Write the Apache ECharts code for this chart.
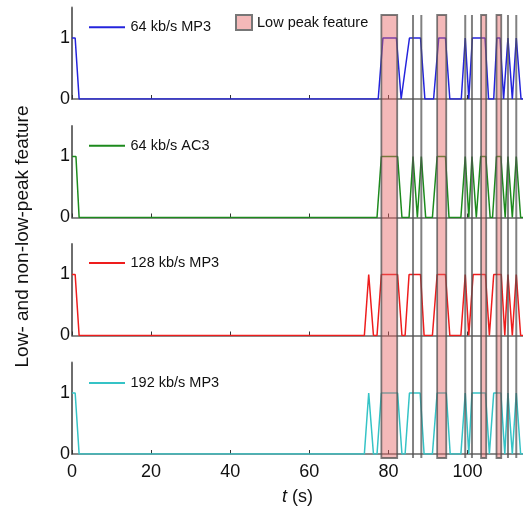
<!DOCTYPE html>
<html><head><meta charset="utf-8">
<script src="https://cdn.jsdelivr.net/npm/echarts@6/dist/echarts.min.js"></script>
<style>html,body{margin:0;padding:0;background:#fff}#c{width:523px;height:514px}</style>
</head><body><div id="c"></div>
<script>
// ---- data ----
const seriesNames = ['64 kb/s MP3', '64 kb/s AC3', '128 kb/s MP3', '192 kb/s MP3'];
const xTicks = [0, 20, 40, 60, 80, 100];
const yTicks = [0, 1];
const mp3_64 = [[0,1],[0.8,1],[1.8,0],
  [77.4,0],[78.6,1],[82.0,1],[83.2,0],
  [83.6,0],[85.3,1],[88.1,1],[89.2,0],
  [91.4,0],[92.7,1],[94.4,1],[95.5,0],
  [98.4,0],[99.4,1],[100.3,0],[101.2,1],[104.4,1],[105.3,0],
  [106.6,0],[107.4,1],[108.2,1],[109.1,0],
  [110.2,1],[111.3,0],[112.3,1],[113.5,0],[114,0]];
const ac3_64 = [[0,1],[1.0,1],[1.8,0],
  [77.1,0],[78.2,1],[82.3,1],[83.4,0],
  [85.2,0],[86.2,1],[87.3,0],[88.3,1],[89.4,0],
  [91.1,0],[92.3,1],[94.4,1],[95.3,0],
  [98.3,0],[99.4,1],[100.3,0],[101.1,1],[102.2,0],
  [102.5,0],[103.3,1],[104.6,1],[105.7,0],
  [106.3,0],[107.3,1],[108.4,1],[109.5,0],
  [110.2,1],[111.3,0],[112.3,1],[113.4,0],[114,0]];
const mp3_128 = [[0,1],[0.8,1],[1.8,0],
  [73.9,0],[75.0,1],[76.2,0],
  [77.1,0],[78.2,1],[82.3,1],[83.4,0],
  [84.2,0],[85.2,1],[88.1,1],[89.0,0],
  [91.1,0],[92.3,1],[94.4,1],[95.5,0],
  [98.3,0],[99.4,1],[100.3,0],[101.4,1],[104.5,1],[105.5,0],
  [106.6,1],[108.5,1],[109.4,0],
  [110.2,1],[111.3,0],[112.3,1],[113.4,0],[114,0]];
const mp3_192 = [[0,1],[0.8,1],[1.8,0],
  [73.9,0],[75.0,1],[76.2,0],
  [77.1,0],[78.2,1],[82.3,1],[83.4,0],
  [84.2,0],[85.3,1],[88.0,1],[89.0,0],
  [91.1,0],[92.3,1],[94.6,1],[95.6,0],
  [98.3,0],[99.4,1],[100.3,0],[101.1,1],[104.5,1],[105.5,0],
  [106.6,1],[108.4,1],[109.4,0],
  [110.2,1],[111.3,0],[112.3,1],[113.4,0],[114,0]];
const lowPeak = [[78.2,82.2],[92.3,94.6],[103.4,104.7],[107.3,108.5]];
const nonLowPeak = [86.2, 88.3, 99.4, 101.1, 110.2, 112.3];

// ---- styles ----
const FONT = 'Liberation Sans, Arial, sans-serif';
const colors = ['#2424dc', '#1d8a1d', '#ee1d1d', '#35c3c6'];
const gridTops = [7.5, 126, 244, 362.5];
const gridH = 91.5;
const legendCenters = [20.7, 139.3, 256.5, 376.5];
const tMin = 0, tMax = 114;
const datasets = [mp3_64, ac3_64, mp3_128, mp3_192];

const grid = gridTops.map(t => ({left: 72, width: 451, top: t, height: gridH}));
grid.push({left: 72, width: 451, top: 15, height: 443});

const xAxis = gridTops.map((t, i) => ({
  type: 'value', gridIndex: i, min: tMin, max: tMax,
  axisLine: {show: true, lineStyle: {color: '#666', width: 1.5}},
  axisTick: {show: true, inside: true, length: 4, customValues: xTicks, lineStyle: {color: '#333', width: 1}},
  axisLabel: {show: i === 3, customValues: xTicks, fontSize: 18, color: '#111', fontFamily: FONT, margin: 9},
  splitLine: {show: false},
  name: i === 3 ? '{i|t} (s)' : '',
  nameLocation: 'middle', nameGap: 34,
  nameTextStyle: {fontSize: 18, color: '#111', fontFamily: FONT,
    rich: {i: {fontStyle: 'italic', fontSize: 18, color: '#111', fontFamily: FONT}}}
}));
xAxis.push({type: 'value', gridIndex: 4, min: tMin, max: tMax, show: false});

const yAxis = gridTops.map((t, i) => ({
  type: 'value', gridIndex: i, min: 0, max: 1.5,
  axisLine: {show: true, lineStyle: {color: '#6e6e6e', width: 2}},
  axisTick: {show: false},
  axisLabel: {customValues: yTicks, fontSize: 18, color: '#111', fontFamily: FONT, margin: 2},
  splitLine: {show: false}
}));
yAxis.push({type: 'value', gridIndex: 4, min: 0, max: 1,
  axisLine: {show: false}, axisTick: {show: false}, axisLabel: {show: false}, splitLine: {show: false},
  name: 'Low- and non-low-peak feature', nameLocation: 'middle', nameGap: 40,
  nameTextStyle: {fontSize: 19, color: '#111', fontFamily: FONT}});

const series = datasets.map((d, i) => ({
  type: 'line', name: seriesNames[i], xAxisIndex: i, yAxisIndex: i,
  data: d, symbol: 'none', showSymbol: false, z: 2,
  lineStyle: {color: colors[i], width: 1.5}, itemStyle: {color: colors[i]}
}));
series.push({
  type: 'custom', name: 'Low peak feature', xAxisIndex: 4, yAxisIndex: 4, z: 5,
  data: lowPeak,
  itemStyle: {color: '#f4b9b9', borderColor: '#777', borderWidth: 2},
  renderItem: function (params, api) {
    const p0 = api.coord([api.value(0), 1]);
    const p1 = api.coord([api.value(1), 0]);
    return {type: 'rect', shape: {x: p0[0], y: p0[1], width: p1[0] - p0[0], height: p1[1] - p0[1]},
      style: {fill: 'rgba(230,100,100,0.45)', stroke: 'rgba(80,80,80,0.75)', lineWidth: 1.8}};
  }
});
series.push({
  type: 'custom', name: 'nonlow', xAxisIndex: 4, yAxisIndex: 4, z: 5,
  data: nonLowPeak.map(v => [v]),
  renderItem: function (params, api) {
    const p0 = api.coord([api.value(0), 1]);
    const p1 = api.coord([api.value(0), 0]);
    return {type: 'line', shape: {x1: p0[0], y1: p0[1], x2: p1[0], y2: p1[1]},
      style: {stroke: 'rgba(80,80,80,0.72)', lineWidth: 2}};
  }
});

const legend = seriesNames.map((n, i) => ({
  data: [{name: n, icon: 'path://M0,0 H36 V2 H0 Z'}], left: 89, top: legendCenters[i] - 1,
  itemWidth: 37, itemHeight: 2, padding: 0,
  textStyle: {fontSize: 14.5, color: '#111', fontFamily: FONT}, selectedMode: false
}));
legend.push({
  data: [{name: 'Low peak feature', icon: 'rect'}], left: 235, top: 14, itemWidth: 16, itemHeight: 15, padding: 0,
  itemStyle: {color: '#f4b9b9', borderColor: '#777', borderWidth: 2},
  textStyle: {fontSize: 14.5, color: '#111', fontFamily: FONT}, selectedMode: false
});

const chart = echarts.init(document.getElementById('c'), null, {renderer: 'canvas'});
chart.setOption({animation: false, backgroundColor: '#fff', grid, xAxis, yAxis, series, legend});
</script></body></html>
